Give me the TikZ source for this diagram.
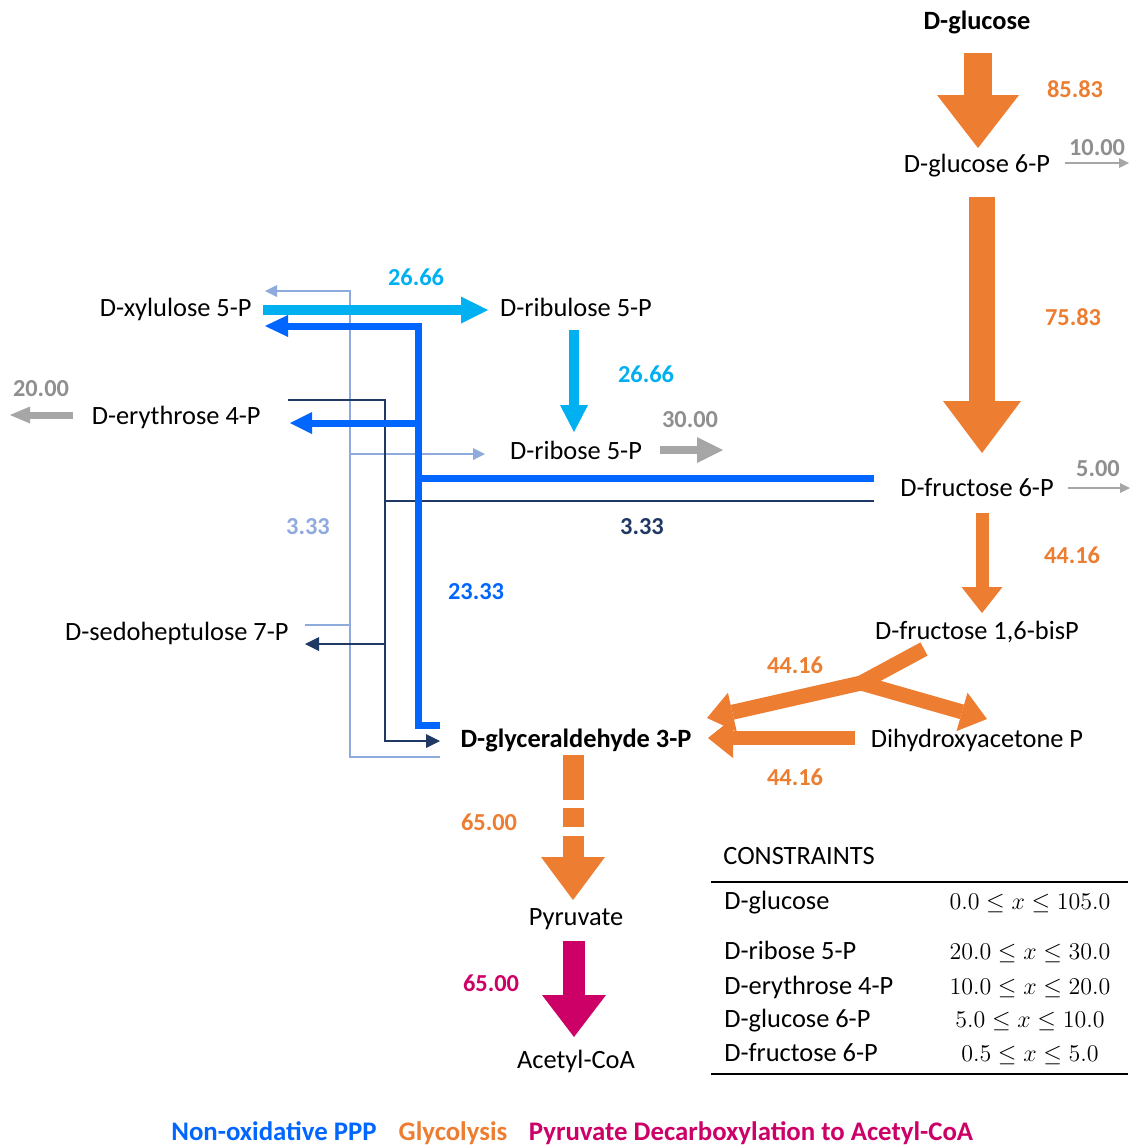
\documentclass[tikz,border=0pt]{standalone}
\usepackage{fontspec}
\setmainfont{Carlito}
\usetikzlibrary{arrows.meta}
\definecolor{glyc}{HTML}{ED7D31}
\definecolor{ppp}{HTML}{0066FF}
\definecolor{pppcyan}{HTML}{00B0F0}
\definecolor{pppnavy}{HTML}{203864}
\definecolor{ppplight}{HTML}{8FAADC}
\definecolor{outgray}{HTML}{A6A6A6}
\definecolor{numgray}{HTML}{8F8F8F}
\definecolor{pdc}{HTML}{CC0066}
\tikzset{
  met/.style={inner sep=0pt,anchor=base,font=\fontsize{13.2}{16}\selectfont},
  metb/.style={met,font=\fontsize{13.2}{16}\selectfont\bfseries},
  flux/.style={inner sep=0pt,anchor=base,text=#1,font=\fontsize{12.2}{14}\selectfont\bfseries},
  legend/.style={flux=#1,font=\fontsize{13.4}{16}\selectfont\bfseries},
  block/.style n args={4}{draw=#1,line width=#2,-{Triangle[width=#3,length=#4,line width=0pt]}},
  wire/.style n args={3}{draw=#1,line width=#2,-{Triangle[width=#3,length=#3,line width=0pt]}},
  rule/.style={line width=#1}
}

\begin{document}
\begin{tikzpicture}[x=0.5pt,y=-0.5pt]
\useasboundingbox (0,0) rectangle (1131,1147);
\foreach \a/\b/\n in {978/53/glc1,978/148/glc2,982/197/g6p1,982/453/g6p2,982/513/f6p1,982/613/f6p2,
  924/649/fbp1,861/683/fork,707/718/gapA,987/719/dhapA,855/738/dhap1,708/738/gapB,
  573/755/gap1,573/900/pyr1,574/941/pyr2,574/1037/acoa1,
  1065/163/gout1,1129/163/gout2,1068/488/fout1,1130/488/fout2,
  263/310/xu1,488/310/ru1,574/330/ru2,574/432/r51,660/450/rout1,723/450/rout2,73/415/eout1,10/415/eout2,
  874/478/bF,418/478/bJ,418/326/bT,265/326/bX,418/423/bE1,290/423/bE2,440/725/bG,418/725/bC,
  288/400/nE,385/400/nC1,874/501/nF,385/501/nJ,385/644/nS1,305/644/nS2,385/741/nC2,440/741/nG,
  440/757/lG,350/757/lC1,350/291/lC2,265/291/lX,305/625/lS1,350/625/lS2,350/454/lR1,485/454/lR2}
  \coordinate (\n) at (\a,\b);

\node[metb] (glc) at (977,29) {D-glucose};
\node[met] (g6p) at (977,172) {D-glucose 6-P};
\node[met] (f6p) at (977,496) {D-fructose 6-P};
\node[met] (fbp) at (977,639) {D-fructose 1,6-bisP};
\node[met] (dhap) at (977,747) {Dihydroxyacetone P};
\node[metb] (gap) at (576,747) {D-glyceraldehyde 3-P};
\node[met] (pyr) at (576,925) {Pyruvate};
\node[met] (acoa) at (576,1068) {Acetyl-CoA};
\node[met,anchor=base east] (xu5p) at (252,316) {D-xylulose 5-P};
\node[met] (ru5p) at (576,316) {D-ribulose 5-P};
\node[met,anchor=base east] (e4p) at (261,424) {D-erythrose 4-P};
\node[met] (r5p) at (576,459) {D-ribose 5-P};
\node[met,anchor=base east] (s7p) at (289,640) {D-sedoheptulose 7-P};

\draw[wire={ppplight}{1pt}{6pt}] (lG) -- (lC1) -- (lC2) -- (lX);
\draw[ppplight,line width=1pt] (lS1) -- (lS2);
\draw[wire={ppplight}{1pt}{6pt}] (lR1) -- (lR2);
\draw[wire={pppnavy}{1pt}{7pt}] (nE) -- (nC1) -- (nC2) -- (nG);
\draw[pppnavy,line width=1pt] (nF) -- (nJ);
\draw[wire={pppnavy}{1pt}{7pt}] (nS1) -- (nS2);
\draw[block={pppcyan}{5pt}{13.5pt}{13.5pt}] (xu1) -- (ru1);
\draw[block={pppcyan}{5pt}{14pt}{13.5pt}] (ru2) -- (r51);
\draw[block={ppp}{3.5pt}{11pt}{11.5pt}] (bG) -- (bC) -- (bT) -- (bX);
\draw[ppp,line width=3.5pt] (bF) -- (bJ);
\draw[block={ppp}{3.5pt}{11pt}{11pt}] (bE1) -- (bE2);
\draw[block={outgray}{4pt}{13pt}{13pt}] (rout1) -- (rout2);
\draw[block={outgray}{3.5pt}{8.5pt}{10pt}] (eout1) -- (eout2);
\draw[wire={outgray}{0.8pt}{5pt}] (gout1) -- (gout2);
\draw[wire={outgray}{0.8pt}{5pt}] (fout1) -- (fout2);

\draw[block={glyc}{14pt}{41pt}{26.5pt}] (glc1) -- (glc2);
\draw[block={glyc}{13pt}{39pt}{26pt}] (g6p1) -- (g6p2);
\draw[block={glyc}{6.5pt}{20.5pt}{13pt}] (f6p1) -- (f6p2);
\draw[glyc,line width=7.5pt] (fbp1) -- (fork);
\draw[block={glyc}{7.5pt}{20pt}{13pt}] (fork) -- (gapA);
\draw[block={glyc}{7.5pt}{20pt}{13pt}] (fork) -- (dhapA);
\draw[block={glyc}{7pt}{20pt}{12.5pt}] (dhap1) -- (gapB);
\draw[block={glyc}{10.5pt}{32pt}{21.5pt},dash pattern=on 22.5pt off 4pt on 9.5pt off 4.5pt on 20pt off 0pt] (gap1) -- (pyr1);
\draw[block={pdc}{11pt}{32pt}{21pt}] (pyr2) -- (acoa1);

\node[flux=glyc] (v1) at (1075,97) {85.83};
\node[flux=numgray] (v2) at (1097,155) {10.00};
\node[flux=glyc] (v3) at (1073,325) {75.83};
\node[flux=numgray] (v4) at (1098,476) {5.00};
\node[flux=glyc] (v5) at (1072,563) {44.16};
\node[flux=glyc] (v6) at (795,673) {44.16};
\node[flux=glyc] (v7) at (795,785) {44.16};
\node[flux=glyc] (v8) at (489,830) {65.00};
\node[flux=pdc] (v9) at (491,991) {65.00};
\node[flux=pppcyan] (v10) at (416,285) {26.66};
\node[flux=pppcyan] (v11) at (646,382) {26.66};
\node[flux=numgray] (v12) at (690,427) {30.00};
\node[flux=numgray] (v13) at (41,396) {20.00};
\node[flux=ppplight] (v14) at (308,534) {3.33};
\node[flux=pppnavy] (v15) at (642,534) {3.33};
\node[flux=ppp] (v16) at (476,599) {23.33};

\node[met,anchor=base west] (cons) at (723,864) {CONSTRAINTS};
\draw[rule=0.8pt] (711,882) -- (1128,882);
\draw[rule=1pt] (711,1074) -- (1128,1074);
\foreach \n/\r/\yy [count=\i] in {D-glucose/{0.0\le x\le 105.0}/909,D-ribose 5-P/{20.0\le x\le 30.0}/959,
  D-erythrose 4-P/{10.0\le x\le 20.0}/994,D-glucose 6-P/{5.0\le x\le 10.0}/1027,D-fructose 6-P/{0.5\le x\le 5.0}/1061}{
  \node[met,anchor=base west] (cn\i) at (724,\yy) {\n};
  \node[met,font=\fontsize{13.2}{15}\selectfont] (cr\i) at (1030,\yy) {$\r$};
}

\node[legend=ppp] (leg1) at (274,1140) {Non-oxidative PPP};
\node[legend=glyc] (leg2) at (453,1140) {Glycolysis};
\node[legend=pdc] (leg3) at (751,1140) {Pyruvate Decarboxylation to Acetyl-CoA};
\end{tikzpicture}
\end{document}
